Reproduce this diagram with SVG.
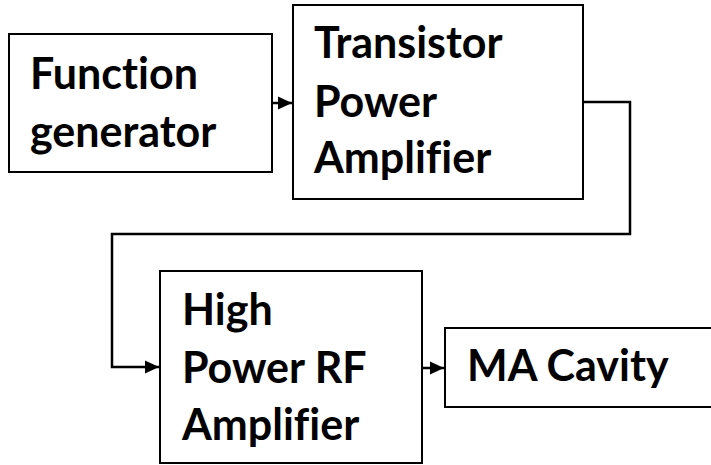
<svg xmlns="http://www.w3.org/2000/svg" width="711" height="465" viewBox="0 0 711 465">
<style>
.box{fill:#fff;stroke:#000;stroke-width:2}
.lbl{font-family:Lato,"Open Sans","Liberation Sans",sans-serif;font-weight:bold;font-size:43px;fill:#000;font-variant-ligatures:none;font-feature-settings:"liga" 0}
.conn{fill:none;stroke:#000;stroke-width:2.5}
</style>
<defs>
<marker id="arr" markerUnits="userSpaceOnUse" markerWidth="16" markerHeight="16" refX="15" refY="8" orient="auto">
<path d="M1,1.5 L15,8 L1,14.5 z" fill="#000"/>
</marker>
</defs>
<rect width="711" height="465" fill="#fff"/>
<g id="connectors">
<path class="conn" d="M272,103 H292" marker-end="url(#arr)"/>
<path class="conn" d="M583,102 H630 V234 H112 V367 H159" marker-end="url(#arr)"/>
<path class="conn" d="M422,368 H444" marker-end="url(#arr)"/>
</g>
<g id="function-generator">
<rect class="box" x="9" y="34" width="263" height="138"/>
<text class="lbl" x="30" y="89">Function</text>
<text class="lbl" x="30" y="147">generator</text>
</g>
<g id="transistor-power-amplifier">
<rect class="box" x="293" y="5" width="290" height="194"/>
<text class="lbl" x="314" y="58">Transistor</text>
<text class="lbl" x="314" y="117">Power</text>
<text class="lbl" x="314" y="173">Amplifier</text>
</g>
<g id="high-power-rf-amplifier">
<rect class="box" x="160" y="271" width="262" height="192"/>
<text class="lbl" x="182" y="325">High</text>
<text class="lbl" x="182" y="383">Power RF</text>
<text class="lbl" x="182" y="440">Amplifier</text>
</g>
<g id="ma-cavity">
<rect class="box" x="445" y="328" width="280" height="79"/>
<text class="lbl" x="467" y="381">MA Cavity</text>
</g>
</svg>
